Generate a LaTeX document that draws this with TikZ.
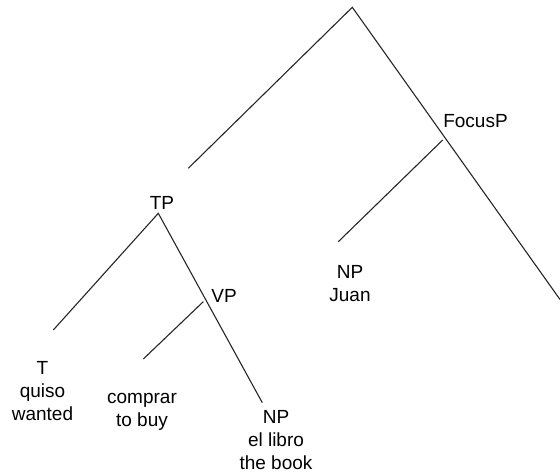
\documentclass[tikz,border=0pt]{standalone}
\usepackage{fontspec}
\setmainfont{Liberation Sans}
\begin{document}
\begin{tikzpicture}[x=1pt,y=-1pt,
  branch/.style={line width=1.1pt, black!85},
  lbl/.style={inner sep=0pt, align=center, anchor=base, font=\fontsize{19}{23}\selectfont}]
\useasboundingbox (0,0) rectangle (560,474);
% branch points
\coordinate (root) at (352.3,7.3);
\coordinate (rootL) at (188.3,168.3);
\coordinate (rootR) at (560,299.5);
\coordinate (focTop) at (442.7,140);
\coordinate (focL) at (338.3,241.7);
\coordinate (tpTop) at (158.3,213.3);
\coordinate (tpL) at (53.3,330);
\coordinate (tpR) at (262.3,402.7);
\coordinate (vpTop) at (203.3,301.7);
\coordinate (vpL) at (143.3,359);
% connectors
\draw[branch] (rootL) -- (root) -- (rootR);
\draw[branch] (focTop) -- (focL);
\draw[branch] (tpL) -- (tpTop) -- (tpR);
\draw[branch] (vpTop) -- (vpL);
% labels (anchored at the baseline of their last line)
\node[lbl] (focus) at (475.5,127.5) {FocusP};
\node[lbl] (tp) at (162,209) {TP};
\node[lbl] (vp) at (224,302.5) {VP};
\node[lbl] (npj) at (350,301.5) {NP\\Juan};
\node[lbl] (t) at (42.5,420) {T\\quiso\\wanted};
\node[lbl] (v) at (142,426) {comprar\\to buy};
\node[lbl] (npb) at (276,469.3) {NP\\el libro\\the book};
\end{tikzpicture}
\end{document}
